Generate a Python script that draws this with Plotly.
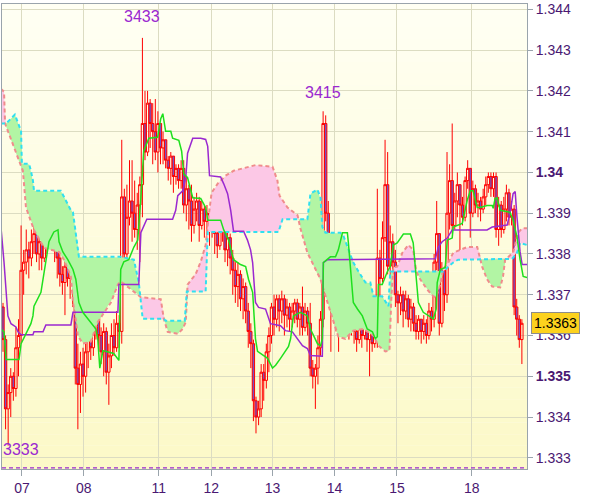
import numpy as np
import plotly.graph_objects as go

# ---------------- data (hourly bars) ----------------
first_open = 1.3367
close = [1.3359, 1.3342, 1.3346, 1.3350, 1.3347, 1.3357, 1.3360, 1.3376, 1.3378, 1.3381,
         1.3379, 1.3383, 1.3385, 1.3380, 1.3383, 1.3379, 1.3390, 1.3386, 1.3390, 1.3387,
         1.3385, 1.3379, 1.3375, 1.3373, 1.3377, 1.3374, 1.3377, 1.3383, 1.3352, 1.3348,
         1.3353, 1.3350, 1.3356, 1.3359, 1.3357, 1.3362, 1.3366, 1.3360, 1.3356, 1.3361,
         1.3351, 1.3355, 1.3360, 1.3357, 1.3363, 1.3361, 1.3394, 1.3380, 1.3389, 1.3393,
         1.3390, 1.3386, 1.3392, 1.3397, 1.3412, 1.3405, 1.3417, 1.3412, 1.3410, 1.3405,
         1.3412, 1.3406, 1.3408, 1.3403, 1.3401, 1.3404, 1.3399, 1.3401, 1.3398, 1.3401,
         1.3392, 1.3396, 1.3393, 1.3387, 1.3391, 1.3393, 1.3387, 1.3391, 1.3388, 1.3390,
         1.3386, 1.3389, 1.3385, 1.3382, 1.3388, 1.3386, 1.3381, 1.3384, 1.3379, 1.3376,
         1.3372, 1.3375, 1.3369, 1.3372, 1.3366, 1.3361, 1.3358, 1.3344, 1.3340, 1.3342,
         1.3351, 1.3349, 1.3356, 1.3360, 1.3367, 1.3364, 1.3369, 1.3366, 1.3369, 1.3365,
         1.3367, 1.3364, 1.3366, 1.3368, 1.3364, 1.3367, 1.3362, 1.3366, 1.3363, 1.3352,
         1.3350, 1.3352, 1.3357, 1.3364, 1.3412, 1.3390, 1.3380, 1.3371, 1.3367, 1.3370,
         1.3364, 1.3368, 1.3364, 1.3366, 1.3362, 1.3365, 1.3361, 1.3359, 1.3363, 1.3360,
         1.3367, 1.3359, 1.3362, 1.3358, 1.3363, 1.3379, 1.3374, 1.3384, 1.3397, 1.3377,
         1.3383, 1.3378, 1.3370, 1.3368, 1.3370, 1.3366, 1.3369, 1.3364, 1.3367, 1.3363,
         1.3361, 1.3364, 1.3361, 1.3363, 1.3360, 1.3366, 1.3364, 1.3378, 1.3385, 1.3363,
         1.3376, 1.3370, 1.3390, 1.3398, 1.3387, 1.3393, 1.3397, 1.3392, 1.3389, 1.3398,
         1.3401, 1.3390, 1.3396, 1.3392, 1.3393, 1.3391, 1.3394, 1.3397, 1.3399, 1.3396,
         1.3399, 1.3386, 1.3392, 1.3386, 1.3391, 1.3395, 1.3389, 1.3391, 1.3367, 1.3364,
         1.3359, 1.3363]
high = [1.3368, 1.3360, 1.3348, 1.3352, 1.3351, 1.3362, 1.3364, 1.3387, 1.3381, 1.3386,
        1.3383, 1.3386, 1.3389, 1.3386, 1.3385, 1.3384, 1.3391, 1.3394, 1.3392, 1.3391,
        1.3388, 1.3386, 1.3380, 1.3377, 1.3381, 1.3378, 1.3380, 1.3384, 1.3384, 1.3358,
        1.3356, 1.3357, 1.3358, 1.3362, 1.3362, 1.3364, 1.3368, 1.3367, 1.3362, 1.3363,
        1.3362, 1.3358, 1.3363, 1.3364, 1.3366, 1.3365, 1.3408, 1.3396, 1.3397, 1.3403,
        1.3403, 1.3398, 1.3395, 1.3399, 1.3433, 1.3420, 1.3420, 1.3418, 1.3417, 1.3418,
        1.3415, 1.3412, 1.3410, 1.3407, 1.3404, 1.3405, 1.3404, 1.3402, 1.3402, 1.3403,
        1.3403, 1.3399, 1.3397, 1.3397, 1.3394, 1.3395, 1.3394, 1.3393, 1.3392, 1.3392,
        1.3390, 1.3390, 1.3389, 1.3387, 1.3389, 1.3389, 1.3387, 1.3386, 1.3385, 1.3381,
        1.3378, 1.3378, 1.3376, 1.3374, 1.3373, 1.3368, 1.3363, 1.3359, 1.3345, 1.3344,
        1.3353, 1.3353, 1.3358, 1.3362, 1.3368, 1.3370, 1.3370, 1.3370, 1.3371, 1.3370,
        1.3369, 1.3368, 1.3368, 1.3369, 1.3369, 1.3368, 1.3372, 1.3368, 1.3367, 1.3368,
        1.3354, 1.3353, 1.3360, 1.3366, 1.3415, 1.3414, 1.3393, 1.3382, 1.3373, 1.3373,
        1.3371, 1.3370, 1.3369, 1.3368, 1.3367, 1.3367, 1.3366, 1.3364, 1.3365, 1.3364,
        1.3369, 1.3368, 1.3364, 1.3364, 1.3365, 1.3396, 1.3381, 1.3388, 1.3408, 1.3405,
        1.3387, 1.3385, 1.3381, 1.3371, 1.3372, 1.3371, 1.3371, 1.3370, 1.3369, 1.3368,
        1.3365, 1.3365, 1.3364, 1.3365, 1.3364, 1.3368, 1.3367, 1.3380, 1.3393, 1.3385,
        1.3378, 1.3377, 1.3405, 1.3402, 1.3412, 1.3395, 1.3400, 1.3396, 1.3394, 1.3399,
        1.3403, 1.3401, 1.3398, 1.3397, 1.3395, 1.3394, 1.3396, 1.3399, 1.3400, 1.3400,
        1.3400, 1.3400, 1.3394, 1.3393, 1.3394, 1.3397, 1.3396, 1.3393, 1.3392, 1.3369,
        1.3365, 1.3364]
low = [1.3356, 1.3337, 1.3333, 1.3340, 1.3344, 1.3345, 1.3350, 1.3358, 1.3370, 1.3375,
       1.3374, 1.3377, 1.3380, 1.3378, 1.3376, 1.3376, 1.3378, 1.3380, 1.3383, 1.3384,
       1.3378, 1.3374, 1.3372, 1.3370, 1.3365, 1.3372, 1.3369, 1.3367, 1.3348, 1.3337,
       1.3341, 1.3345, 1.3346, 1.3352, 1.3354, 1.3355, 1.3359, 1.3356, 1.3353, 1.3350,
       1.3348, 1.3343, 1.3352, 1.3355, 1.3356, 1.3357, 1.3358, 1.3374, 1.3374, 1.3387,
       1.3383, 1.3384, 1.3381, 1.3378, 1.3389, 1.3403, 1.3404, 1.3406, 1.3402, 1.3403,
       1.3400, 1.3402, 1.3402, 1.3401, 1.3398, 1.3397, 1.3395, 1.3397, 1.3396, 1.3396,
       1.3390, 1.3388, 1.3386, 1.3383, 1.3385, 1.3388, 1.3383, 1.3386, 1.3384, 1.3383,
       1.3382, 1.3384, 1.3380, 1.3379, 1.3381, 1.3383, 1.3378, 1.3377, 1.3375, 1.3370,
       1.3368, 1.3367, 1.3366, 1.3364, 1.3363, 1.3357, 1.3352, 1.3339, 1.3336, 1.3338,
       1.3340, 1.3344, 1.3347, 1.3351, 1.3358, 1.3360, 1.3362, 1.3361, 1.3363, 1.3360,
       1.3362, 1.3361, 1.3362, 1.3363, 1.3362, 1.3360, 1.3360, 1.3361, 1.3360, 1.3350,
       1.3347, 1.3342, 1.3348, 1.3355, 1.3362, 1.3388, 1.3377, 1.3356, 1.3363, 1.3361,
       1.3356, 1.3362, 1.3360, 1.3361, 1.3359, 1.3360, 1.3358, 1.3356, 1.3358, 1.3357,
       1.3359, 1.3356, 1.3350, 1.3356, 1.3357, 1.3357, 1.3368, 1.3373, 1.3383, 1.3375,
       1.3374, 1.3375, 1.3367, 1.3363, 1.3365, 1.3362, 1.3364, 1.3362, 1.3361, 1.3361,
       1.3359, 1.3359, 1.3358, 1.3359, 1.3358, 1.3359, 1.3361, 1.3362, 1.3376, 1.3360,
       1.3362, 1.3366, 1.3368, 1.3386, 1.3385, 1.3386, 1.3389, 1.3380, 1.3387, 1.3388,
       1.3396, 1.3384, 1.3389, 1.3390, 1.3389, 1.3388, 1.3390, 1.3392, 1.3395, 1.3394,
       1.3394, 1.3384, 1.3382, 1.3384, 1.3385, 1.3388, 1.3387, 1.3387, 1.3365, 1.3360,
       1.3357, 1.3353]

day_ticks = [7.35, 31.3, 60.3, 80.7, 104.4, 128.4, 152.6, 181.6]
day_labels = ["07", "08", "11", "12", "13", "14", "15", "18"]

price_ticks = [1.333, 1.334, 1.335, 1.336, 1.337, 1.338, 1.339, 1.340, 1.341, 1.342, 1.343, 1.344]
price_labels = ["1.333", "1.334", "<b>1.335</b>", "1.336", "1.337", "1.338", "1.339",
                "<b>1.34</b>", "1.341", "1.342", "1.343", "1.344"]

# cloud span A (cyan dashed) vertices: bar index, price
span_a_x = [-0.8, 1.2, 4.6, 7.0, 7.3, 10.1, 10.8, 11.6, 12.0, 22.4, 26.3, 27.1, 29.4, 45.6,
            50.7, 52.6, 54.1, 62.3, 63.0, 70.4, 71.2, 78.5, 79.3, 106.7, 108.3, 117.9, 119.1,
            121.8, 123.0, 123.7, 124.9, 130.7, 131.9, 135.7, 137.7, 140.4, 142.3, 143.5, 146.9,
            149.3, 150.0, 170.5, 172.5, 174.4, 176.3, 197.2, 199.1, 200.3, 203.0]
span_a_y = [1.34120, 1.34120, 1.34142, 1.34101, 1.34021, 1.34021, 1.34004, 1.33980, 1.33955,
            1.33955, 1.33907, 1.33902, 1.33793, 1.33793, 1.33786, 1.33730, 1.33641, 1.33641,
            1.33636, 1.33636, 1.33708, 1.33708, 1.33854, 1.33854, 1.33885, 1.33885, 1.33948,
            1.33958, 1.33938, 1.33866, 1.33852, 1.33852, 1.33844, 1.33779, 1.33757, 1.33730,
            1.33730, 1.33696, 1.33696, 1.33672, 1.33757, 1.33757, 1.33769, 1.33779, 1.33786,
            1.33788, 1.33803, 1.33827, 1.33822]

# cloud span B (salmon dashed) vertices
span_b_x = [-0.8, 0.4, 0.8, 1.2, 6.2, 7.7, 8.9, 12.0, 15.9, 21.7, 23.6, 26.3, 27.1, 27.8, 29.0,
            30.9, 34.0, 36.7, 41.8, 44.5, 45.6, 49.5, 52.2, 53.4, 61.1, 62.3, 63.8, 67.7, 69.6,
            70.8, 71.5, 74.6, 76.6, 78.5, 79.7, 80.8, 83.1, 86.2, 89.3, 97.8, 104.4, 106.3,
            107.1, 110.2, 114.1, 115.2, 117.9, 121.0, 123.0, 125.7, 128.0, 129.9, 132.6, 135.7,
            139.6, 143.5, 145.4, 148.1, 149.7, 150.4, 151.2, 152.7, 154.7, 157.0, 158.9, 160.1,
            161.6, 164.3, 166.7, 167.8, 169.4, 170.5, 172.5, 174.4, 177.1, 179.8, 183.7, 184.8,
            185.6, 187.5, 189.5, 192.6, 193.7, 194.5, 195.7, 197.6, 199.5, 201.1, 203.0]
span_b_y = [1.34205, 1.34198, 1.34120, 1.34113, 1.34028, 1.34004, 1.33914, 1.33859, 1.33815,
            1.33805, 1.33786, 1.33745, 1.33681, 1.33657, 1.33600, 1.33580, 1.33585, 1.33633,
            1.33681, 1.33725, 1.33733, 1.33713, 1.33701, 1.33694, 1.33689, 1.33641, 1.33609,
            1.33604, 1.33616, 1.33633, 1.33725, 1.33750, 1.33781, 1.33822, 1.33895, 1.33950,
            1.33972, 1.33992, 1.34004, 1.34018, 1.34014, 1.33980, 1.33943, 1.33914, 1.33895,
            1.33863, 1.33803, 1.33762, 1.33738, 1.33681, 1.33633, 1.33597, 1.33592, 1.33612,
            1.33616, 1.33600, 1.33575, 1.33561, 1.33563, 1.33689, 1.33767, 1.33769, 1.33803,
            1.33822, 1.33810, 1.33757, 1.33738, 1.33713, 1.33696, 1.33694, 1.33725, 1.33762,
            1.33779, 1.33803, 1.33810, 1.33817, 1.33817, 1.33791, 1.33769, 1.33738, 1.33720,
            1.33718, 1.33745, 1.33786, 1.33793, 1.33803, 1.33852, 1.33863, 1.33863]

# purple base line vertices
purple_x = [-0.8, 0.4, 1.9, 3.1, 5.0, 5.8, 7.0, 11.6, 12.0, 15.5, 16.6, 26.3, 27.1, 44.5, 44.9,
            52.6, 53.4, 54.5, 55.7, 65.7, 66.9, 67.7, 69.6, 70.8, 71.5, 73.5, 76.6, 78.5, 79.3,
            80.0, 84.3, 85.5, 87.0, 88.2, 89.3, 93.2, 94.7, 95.9, 96.7, 97.8, 99.0, 101.7, 103.6,
            107.5, 109.4, 112.1, 114.1, 116.0, 117.9, 119.1, 123.7, 124.1, 125.7, 167.5, 168.6,
            170.1, 172.1, 174.0, 187.5, 189.5, 195.3, 196.4, 197.6, 198.4, 199.1, 200.3, 201.1,
            203.0]
purple_y = [1.33866, 1.33779, 1.33648, 1.33629, 1.33621, 1.33609, 1.33602, 1.33602, 1.33609,
            1.33609, 1.33626, 1.33626, 1.33657, 1.33657, 1.33725, 1.33725, 1.33852, 1.33868,
            1.33885, 1.33885, 1.33907, 1.33943, 1.33955, 1.33987, 1.34047, 1.34084, 1.34084,
            1.34081, 1.34064, 1.33992, 1.33989, 1.33972, 1.33948, 1.33907, 1.33856, 1.33856,
            1.33834, 1.33810, 1.33779, 1.33681, 1.33669, 1.33665, 1.33629, 1.33624, 1.33612,
            1.33609, 1.33592, 1.33575, 1.33568, 1.33551, 1.33549, 1.33779, 1.33786, 1.33788,
            1.33817, 1.33830, 1.33839, 1.33859, 1.33859, 1.33866, 1.33871, 1.33900, 1.33948,
            1.33953, 1.33890, 1.33805, 1.33774, 1.33774]

# green conversion line vertices
green_x = [-0.8, 0.4, 1.2, 6.2, 7.0, 8.9, 10.8, 11.6, 12.0, 14.7, 15.9, 17.4, 17.8, 19.7, 21.3,
           21.7, 23.2, 25.1, 27.1, 28.2, 29.4, 30.9, 32.9, 36.0, 36.7, 37.5, 38.7, 42.9, 44.9,
           45.6, 46.8, 48.7, 50.7, 52.2, 53.4, 54.5, 56.5, 59.9, 61.1, 61.9, 63.0, 65.0, 65.7,
           68.1, 69.2, 70.0, 71.5, 73.5, 76.6, 78.5, 79.3, 84.3, 85.5, 87.4, 89.3, 92.0, 94.0,
           95.1, 96.7, 97.8, 98.6, 102.5, 104.4, 105.6, 107.5, 109.4, 110.6, 111.4, 112.5, 115.2,
           117.9, 119.1, 121.0, 121.8, 123.0, 123.7, 124.1, 126.8, 128.8, 129.9, 131.5, 133.4,
           133.8, 134.6, 135.7, 137.3, 139.2, 141.1, 143.1, 144.2, 145.0, 145.4, 146.9, 148.9,
           150.0, 151.2, 152.7, 155.1, 157.8, 158.9, 159.7, 160.9, 162.8, 165.5, 166.7, 167.8,
           168.2, 169.4, 171.3, 172.1, 174.0, 174.4, 176.3, 177.9, 179.8, 181.0, 182.1, 183.7,
           184.8, 187.5, 189.5, 189.9, 190.6, 191.4, 192.6, 196.4, 197.6, 199.1, 200.3, 201.5,
           203.0]
green_y = [1.33616, 1.33609, 1.33541, 1.33541, 1.33580, 1.33604, 1.33629, 1.33648, 1.33672,
           1.33706, 1.33754, 1.33810, 1.33830, 1.33854, 1.33859, 1.33830, 1.33805, 1.33786,
           1.33762, 1.33738, 1.33681, 1.33657, 1.33641, 1.33616, 1.33592, 1.33520, 1.33563,
           1.33556, 1.33539, 1.33762, 1.33781, 1.33786, 1.33817, 1.33834, 1.33938, 1.34052,
           1.34084, 1.34086, 1.34132, 1.34144, 1.34101, 1.34101, 1.34084, 1.34079, 1.34052,
           1.33997, 1.33987, 1.33938, 1.33936, 1.33914, 1.33883, 1.33883, 1.33859, 1.33834,
           1.33786, 1.33774, 1.33769, 1.33738, 1.33706, 1.33592, 1.33561, 1.33544, 1.33520,
           1.33527, 1.33544, 1.33563, 1.33573, 1.33592, 1.33648, 1.33657, 1.33648, 1.33616,
           1.33592, 1.33580, 1.33575, 1.33592, 1.33779, 1.33793, 1.33793, 1.33810, 1.33852,
           1.33852, 1.33827, 1.33762, 1.33681, 1.33665, 1.33648, 1.33616, 1.33609, 1.33592,
           1.33597, 1.33725, 1.33725, 1.33757, 1.33769, 1.33822, 1.33827, 1.33849, 1.33849,
           1.33827, 1.33762, 1.33681, 1.33657, 1.33645, 1.33641, 1.33665, 1.33730, 1.33762,
           1.33767, 1.33834, 1.33839, 1.33866, 1.33871, 1.33875, 1.33931, 1.33955, 1.33955,
           1.33914, 1.33914, 1.33919, 1.33919, 1.33912, 1.33936, 1.33938, 1.33907, 1.33902,
           1.33883, 1.33842, 1.33786, 1.33745, 1.33742]

# ---------------- styles ----------------
RED = "#ff0000"
BEAR_FILL = "#7652c6"
GREEN_FILL = "#b2f5a4"
PINK_FILL = "#fcc8e6"
CYAN = "#30e0f0"
SALMON = "#f08c8c"
PURPLE = "#9a28d0"
GREEN = "#1ee01e"
LABEL = "#4a1872"
GRID = "#dcdcc2"
FRAME = "#9aa4ac"
X_RANGE = [-0.39, 202.98]
Y_RANGE = [1.332726, 1.344131]

n = len(close)
idx = list(range(n))
opens = [first_open] + close[:-1]
hi = [max(h, o, c) for h, o, c in zip(high, opens, close)]
lo = [min(l, o, c) for l, o, c in zip(low, opens, close)]

fig = go.Figure()

# cloud fills
grid = np.linspace(X_RANGE[0] - 1, X_RANGE[1] + 1, 4000)
a = np.interp(grid, span_a_x, span_a_y)
b = np.interp(grid, span_b_x, span_b_y)
top = np.maximum(a, b)
for base, col in ((b, GREEN_FILL), (a, PINK_FILL)):
    fig.add_trace(go.Scatter(x=grid, y=base, mode="lines", line=dict(width=0),
                             hoverinfo="skip", showlegend=False))
    fig.add_trace(go.Scatter(x=grid, y=top, mode="lines", line=dict(width=0),
                             fill="tonexty", fillcolor=col, hoverinfo="skip", showlegend=False))

fig.add_trace(go.Scatter(x=span_b_x, y=span_b_y, mode="lines",
                         line=dict(color=SALMON, width=2, dash="4px,3px"), showlegend=False))
fig.add_trace(go.Scatter(x=span_a_x, y=span_a_y, mode="lines",
                         line=dict(color=CYAN, width=2, dash="4px,3px"), showlegend=False))

fig.add_trace(go.Candlestick(
    x=idx, open=opens, high=hi, low=lo, close=close,
    increasing=dict(line=dict(color=RED, width=1), fillcolor="rgba(0,0,0,0)"),
    decreasing=dict(line=dict(color=RED, width=1), fillcolor=BEAR_FILL),
    whiskerwidth=0, showlegend=False))

fig.add_trace(go.Scatter(x=purple_x, y=purple_y, mode="lines",
                         line=dict(color=PURPLE, width=1.5), showlegend=False))
fig.add_trace(go.Scatter(x=green_x, y=green_y, mode="lines",
                         line=dict(color=GREEN, width=1.5), showlegend=False))

# background gradient bands
shapes = []
nb = 40
for k in range(nb):
    t = k / (nb - 1)
    r = int(round(255 + (252 - 255) * t))
    g = int(round(255 + (249 - 255) * t))
    bl = int(round(243 + (200 - 243) * t))
    shapes.append(dict(type="rect", xref="paper", yref="paper", x0=0, x1=1,
                       y0=1 - (k + 1) / nb, y1=1 - k / nb, line=dict(width=0),
                       fillcolor=f"rgb({r},{g},{bl})", layer="below"))
shapes.append(dict(type="line", xref="paper", yref="y", x0=0, x1=1,
                   y0=Y_RANGE[0] + 0.00003, y1=Y_RANGE[0] + 0.00003,
                   line=dict(color=PURPLE, width=1.2, dash="4px,3px")))

# annotations: extremes and current price
i_max = int(np.argmax(hi))
i_max2 = 100 + int(np.argmax(hi[100:]))
i_min = int(np.argmin(lo))
ann = [
    dict(x=i_max, y=hi[i_max], text=f"{hi[i_max]:.4f}"[-4:], showarrow=False,
         yshift=21, font=dict(size=16, color=PURPLE, family="Liberation Sans, Arial")),
    dict(x=i_max2, y=hi[i_max2], text=f"{hi[i_max2]:.4f}"[-4:], showarrow=False,
         yshift=19, font=dict(size=16, color=PURPLE, family="Liberation Sans, Arial")),
    dict(x=0, xref="paper", xanchor="left", y=lo[i_min], text=f"{lo[i_min]:.4f}"[-4:],
         showarrow=False, yshift=-4, xshift=-1,
         font=dict(size=16, color=PURPLE, family="Liberation Sans, Arial")),
    dict(x=1, xref="paper", xanchor="left", xshift=4, y=close[-1], yanchor="middle",
         text=f"{close[-1]:.4f}", showarrow=False, bgcolor="#fcd21e",
         bordercolor="#8c8c8c", borderwidth=1, borderpad=2,
         font=dict(size=14, color="#000000", family="Liberation Sans, Arial")),
]

fig.update_layout(
    width=600, height=497,
    margin=dict(l=1, r=73, t=1, b=25),
    paper_bgcolor="#ffffff", plot_bgcolor="#fefdf0",
    boxgap=0.1, boxgroupgap=0.0,
    shapes=shapes, annotations=ann, showlegend=False,
    font=dict(family="Liberation Sans, Arial", size=14, color=LABEL),
    xaxis=dict(range=X_RANGE, tickmode="array", tickvals=day_ticks, ticktext=day_labels,
               showgrid=True, gridcolor=GRID, gridwidth=1, zeroline=False,
               showline=True, linecolor=FRAME, linewidth=1, mirror=True,
               ticks="outside", ticklen=6, tickcolor=FRAME, ticklabeloverflow="allow",
               tickfont=dict(size=14, color=LABEL), rangeslider=dict(visible=False),
               fixedrange=True),
    yaxis=dict(range=Y_RANGE, side="right", tickmode="array", tickvals=price_ticks,
               ticktext=price_labels, showgrid=True, gridcolor=GRID, gridwidth=1,
               zeroline=False, showline=True, linecolor=FRAME, linewidth=1, mirror=True,
               ticks="outside", ticklen=5, tickcolor=FRAME, ticklabeloverflow="allow",
               tickfont=dict(size=14, color=LABEL), fixedrange=True),
)

fig.write_html("out.html", config={"displayModeBar": False},
               post_script="document.body.style.margin='0';document.body.style.overflow='hidden';")
